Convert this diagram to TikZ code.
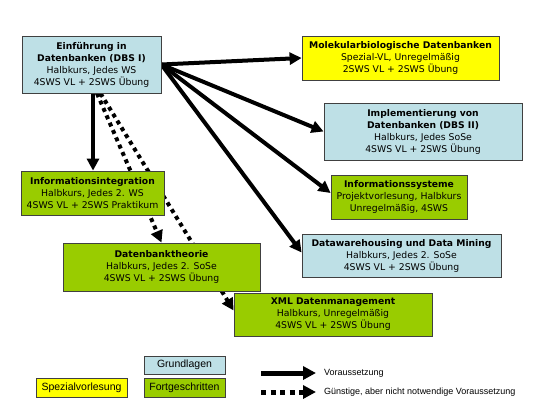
\documentclass[tikz,border=0pt]{standalone}
\usepackage{fontspec}
\newfontfamily\boxfont{DejaVu Sans}
\newfontfamily\legfont{Liberation Sans}
\usetikzlibrary{arrows.meta,backgrounds}
\definecolor{lblue}{RGB}{190,224,230}
\definecolor{lgreen}{RGB}{153,204,0}
\definecolor{lyellow}{RGB}{255,255,0}
\definecolor{bordergray}{RGB}{64,64,64}
\tikzset{
  box/.style={draw=bordergray, line width=0.8pt, align=center, inner sep=0pt,
    font=\boxfont\fontsize{9.3}{12}\selectfont},
  basic/.style={box, fill=lblue},
  adv/.style={box, fill=lgreen},
  spez/.style={box, fill=lyellow},
  legbox/.style={draw=bordergray, line width=0.8pt, inner sep=0pt,
    font=\legfont\fontsize{10.5}{12}\selectfont},
  legtext/.style={anchor=west, inner sep=0pt, font=\legfont\fontsize{9}{11}\selectfont},
  pre/.style={line width=4pt, -{Triangle[length=12pt,width=12pt]}},
  opt/.style={line width=4pt, dash pattern=on 4pt off 4pt, -{Triangle[length=12pt,width=12pt]}},
}
\newcommand{\ttl}[1]{\textbf{\fontsize{9.2}{12}\selectfont #1}}
\begin{document}
\begin{tikzpicture}[x=1pt,y=-1pt]
\useasboundingbox (0,0) rectangle (540,405);

\node[basic, minimum width=139pt, minimum height=57pt] (dbs1) at (91.5,64.5)
  {\ttl{Einführung in}\\\ttl{Datenbanken (DBS I)}\\Halbkurs, Jedes WS\\4SWS VL + 2SWS Übung};
\node[spez, minimum width=197pt, minimum height=44pt] (mol) at (400.5,58)
  {\ttl{Molekularbiologische Datenbanken}\\Spezial-VL, Unregelmäßig\\2SWS VL + 2SWS Übung};
\node[basic, minimum width=198pt, minimum height=57pt] (impl) at (423,131.5)
  {\ttl{Implementierung von}\\\ttl{Datenbanken (DBS II)}\\Halbkurs, Jedes SoSe\\4SWS VL + 2SWS Übung};
\node[adv, minimum width=136pt, minimum height=44pt] (infosys) at (399,197)
  {\ttl{Informationssysteme}\\Projektvorlesung, Halbkurs\\Unregelmäßig, 4SWS};
\node[basic, minimum width=199pt, minimum height=43pt] (dw) at (401.5,255.5)
  {\ttl{Datawarehousing und Data Mining}\\Halbkurs, Jedes 2. SoSe\\4SWS VL + 2SWS Übung};
\node[adv, minimum width=143pt, minimum height=44pt] (infint) at (92.5,193)
  {\ttl{Informationsintegration}\\Halbkurs, Jedes 2. WS\\4SWS VL + 2SWS Praktikum};
\node[adv, minimum width=197pt, minimum height=48pt] (dbt) at (161.5,267)
  {\ttl{Datenbanktheorie}\\Halbkurs, Jedes 2. SoSe\\4SWS VL + 2SWS Übung};
\node[adv, minimum width=198pt, minimum height=43pt] (xml) at (333,314.5)
  {\ttl{XML Datenmanagement}\\Halbkurs, Unregelmäßig\\4SWS VL + 2SWS Übung};

% legend
\node[legbox, fill=lblue, minimum width=81pt, minimum height=18pt] (grund) at (184.5,365) {Grundlagen};
\node[legbox, fill=lgreen, minimum width=81pt, minimum height=19pt] (fort) at (184.5,387.5) {Fortgeschritten};
\node[legbox, fill=lyellow, minimum width=91pt, minimum height=19pt] (spezl) at (81.5,387.5) {Spezialvorlesung};
\coordinate (la1) at (261,373);
\coordinate (la2) at (316,373);
\coordinate (lb1) at (261,392);
\coordinate (lb2) at (316,392);
\node[legtext] (lta) at (324,373) {Voraussetzung};
\node[legtext] (ltb) at (324,392) {Günstige, aber nicht notwendige Voraussetzung};
\draw[line width=5pt, -{Triangle[length=13pt,width=13pt]}] (la1) -- (la2);
\draw[line width=5pt, dash pattern=on 5pt off 4.5pt, -{Triangle[length=13pt,width=13pt]}] (lb1) -- (lb2);

\begin{scope}[on background layer]
\fill[white] (0,0) rectangle (540,405);
\draw[pre] ([xshift=1.5pt]dbs1.south) -- ([xshift=0.5pt]infint.north);
\draw[opt] ([xshift=5.5pt]dbs1.south) -- (dbt.north);
\draw[opt] ([xshift=9pt]dbs1.south) -- ([yshift=4pt]xml.west);
\draw[pre] (dbs1.east) -- (mol.west);
\draw[pre] (dbs1.east) -- (impl.west);
\draw[pre] (dbs1.east) -- ([yshift=4pt]infosys.west);
\draw[pre] (dbs1.east) -- ([yshift=3pt]dw.west);
\end{scope}
\end{tikzpicture}
\end{document}
